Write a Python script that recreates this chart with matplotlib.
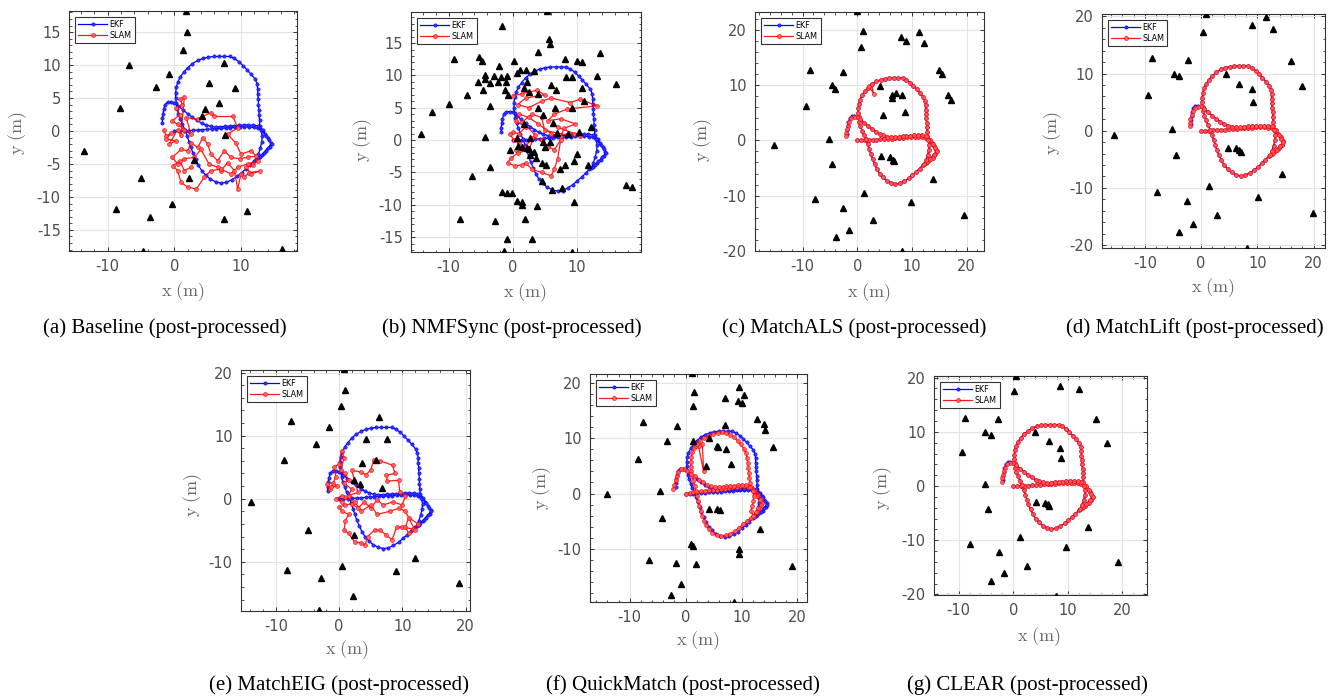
import numpy as np
import matplotlib
matplotlib.use("Agg")
import matplotlib.pyplot as plt
from matplotlib.ticker import MultipleLocator

plt.rcParams["mathtext.fontset"] = "cm"
plt.rcParams["axes.unicode_minus"] = False

# ---- EKF trajectory (same in every panel), split so SLAM variants can reuse it
EKF_START = np.array([
    (0, 0), (0.7, 0), (1.4, 0), (2.1, 0.05), (2.8, 0.1), (3.5, 0.15), (4.2, 0.2), (4.9, 0.25),
    (5.6, 0.3), (6.3, 0.35), (7, 0.4), (7.7, 0.45), (8.4, 0.5), (9.1, 0.55), (9.8, 0.6),
    (10.5, 0.6), (11.2, 0.6), (11.9, 0.55), (12.5, 0.4),
    (13.1, 0), (13.6, -0.5), (14.1, -1.1), (14.5, -1.8), (14.3, -2.5), (13.8, -3.1),
    (13.2, -3.6), (12.6, -4.1), (12.0, -4.5),
    (11.4, -5.1), (10.8, -5.7), (10.1, -6.3), (9.4, -6.9), (8.6, -7.4), (7.8, -7.8), (7.0, -7.9),
    (6.2, -7.7), (5.4, -7.3), (4.7, -6.7), (4.1, -6.0), (3.6, -5.2), (3.2, -4.3), (2.8, -3.4),
    (2.5, -2.5), (2.2, -1.6), (1.9, -0.7), (1.6, 0.2), (1.2, 1.0), (0.9, 1.8), (0.6, 2.6),
    (0.4, 3.4), (0.3, 4.2), (0.2, 5.0), (0.2, 5.8), (0.3, 6.6), (0.5, 7.4), (0.9, 8.2),
    (1.4, 8.9), (2.0, 9.6),
])
EKF_REST = np.array([
    (2.7, 10.2), (3.5, 10.7), (4.3, 11.0), (5.1, 11.2), (5.9, 11.3), (6.7, 11.3), (7.5, 11.3),
    (8.3, 11.3), (9.0, 11.0), (9.7, 10.5), (10.3, 9.9), (10.9, 9.3), (11.5, 8.6), (12.1, 7.9),
    (12.4, 7.2), (12.5, 6.4), (12.5, 5.6), (12.6, 4.8), (12.6, 4.0), (12.7, 3.2), (12.7, 2.4),
    (12.8, 1.6), (12.8, 0.8),
    (13.3, 0.1), (13.8, -0.7), (14.2, -1.4), (14.6, -2.0), (14.0, -2.6), (13.4, -3.3),
    (12.8, -3.9), (12.3, -4.3), (12.6, -3.5), (12.9, -2.6), (13.1, -1.7), (13.2, -0.8),
    (13.0, 0.1), (12.5, 0.8),
    (11.8, 0.9), (11.1, 0.9), (10.4, 0.9), (9.7, 0.85), (9.0, 0.8), (8.3, 0.75), (7.6, 0.7),
    (6.9, 0.65), (6.2, 0.6), (5.5, 0.7), (4.8, 0.9), (4.1, 1.2), (3.4, 1.6), (2.7, 2.1),
    (2.0, 2.6), (1.3, 3.2), (0.6, 3.8), (0.0, 4.3),
])
EKF_HOOK = np.array([(-0.5, 4.4), (-1.0, 4.4), (-1.4, 4.0), (-1.6, 3.3), (-1.7, 2.6),
                     (-1.8, 1.9), (-1.8, 1.2)])
EKF = np.vstack([EKF_START, EKF_REST, EKF_HOOK])

# ---- SLAM trajectories
SLAM_HOOK = np.array([(-0.6, 4.2), (-1.1, 4.0), (-1.5, 3.4), (-1.7, 2.7), (-1.9, 2.0),
                      (-2.0, 1.4), (-2.0, 0.8)])
SPIKE_C = np.array([(2.6, 10.1), (3.0, 8.5), (2.2, 9.8)])
SLAM_C = np.vstack([EKF_START, SPIKE_C, EKF_REST, SLAM_HOOK])
SLAM_D = np.vstack([EKF_START, EKF_REST, SLAM_HOOK])

SLAM_A = np.array([
    (-1.6, 0.2), (-1.2, -0.8), (-0.5, -0.3), (-1.2, -1.2), (0.2, -1.5), (-0.8, -2), (0.5, 0.2),
    (1.0, -0.6), (1.5, 5.2), (0.9, 4.8), (1.2, 4.0), (0.3, 3.5), (0.8, 2.5), (-0.3, 1.5),
    (0.5, 1.0), (1.5, 0.2), (2.5, -0.5), (1.8, 2.0), (3.5, 1.8), (5.5, 2.8), (6.0, 2.2),
    (8.8, 2.2), (9.5, 0.5), (8.0, -0.5), (9.2, -1.8), (10.0, -3.5), (11.5, -3.0), (12.3, -3.8),
    (11.0, -4.0), (9.8, -4.2), (8.5, -4.0), (7.5, -3.0), (6.5, -4.5), (5.5, -3.5), (5.0, -2.0),
    (4.3, -1.0), (3.5, -2.5), (2.5, -1.8), (2.0, -3.0), (1.0, -2.8), (-0.3, -4.0), (0.5, -5.0),
    (1.5, -4.2), (3.0, -4.0), (4.0, -2.8), (5.2, -5.0), (6.5, -5.5), (7.0, -6.0), (8.0, -4.8),
    (9.0, -6.0), (9.5, -8.8), (10.0, -6.5), (10.5, -7.0), (11.2, -6.3), (12.8, -6.1),
    (11.5, -6.5), (10.8, -5.5), (11.8, -5.2), (12.5, -4.5), (11.0, -5.0), (9.5, -5.5),
    (8.5, -6.5), (7.0, -5.8), (5.5, -6.0), (4.5, -7.0), (3.3, -8.8), (2.0, -8.5), (1.0, -7.8),
    (0.5, -6.0), (-0.2, -5.3), (0.8, -4.5), (1.5, -6.0), (2.5, -5.5),
])

SLAM_B = np.array([
    (0.0, 6.8), (1.5, 7.2), (3.8, 7.7), (5.0, 7.0), (2.0, 6.5), (0.8, 5.5), (2.5, 5.0),
    (4.5, 6.0), (6.0, 6.5), (9.0, 5.8), (10.5, 6.3), (13.2, 5.3), (8.5, 4.8), (6.5, 4.0),
    (5.5, 3.0), (7.5, 3.3), (9.8, 2.5), (8.0, 1.8), (7.5, 0.5), (6.0, 1.0), (4.0, 2.5),
    (2.5, 3.5), (1.0, 4.0), (0.5, 3.0), (2.0, 2.0), (1.0, 1.0), (0.0, 1.2), (-0.5, 1.0),
    (0.2, 0.0), (1.0, -0.5), (0.5, -1.5), (2.0, -1.0), (3.0, 0.3), (4.5, 0.0), (5.5, -1.0),
    (6.5, -1.5), (7.5, 0.0), (7.0, -3.0), (6.5, -4.5), (6.0, -5.5), (4.5, -5.0), (3.0, -4.5),
    (2.0, -3.5), (1.5, -3.8), (0.3, -4.0), (-0.8, -3.5), (-0.3, -2.8), (0.8, -2.0),
    (2.5, -1.5), (3.5, 0.8), (1.5, 2.8), (3.0, 4.0), (4.5, 3.5), (5.0, 1.5), (8.5, 0.8),
    (9.5, 1.0), (10.5, 0.7), (7.0, 2.0),
])

SLAM_E = np.array([
    (-1.5, 1.5), (-1.9, 2.4), (-1.0, 2.5), (-0.3, 2.0), (-1.2, 1.8), (-0.5, 3.5), (-0.8, 5.0),
    (0.0, 5.5), (0.4, 7.6), (0.8, 6.5), (0.3, 4.5), (1.0, 4.0), (1.5, 3.0), (0.8, 2.5),
    (2.0, 1.5), (1.5, 0.5), (3.0, 1.0), (2.0, 4.5), (3.5, 4.2), (4.2, 3.8), (5.0, 4.5),
    (5.5, 6.2), (6.5, 6.0), (8.5, 5.3), (8.8, 4.0), (7.5, 3.7), (7.6, 2.8), (9.4, 2.9),
    (9.6, 1.1), (10.5, 0.5), (10.0, -1.0), (8.5, -0.5), (7.0, -1.0), (6.0, -0.2), (5.0, -1.5),
    (4.0, -0.5), (3.0, -1.5), (2.0, -0.8), (1.0, -1.0), (0.0, -1.3), (0.5, -2.0), (1.5, -2.5),
    (1.0, -3.5), (0.8, -5.0), (1.5, -5.5), (2.5, -6.9), (3.5, -7.0), (4.1, -7.4), (4.5, -6.0),
    (5.7, -4.9), (6.5, -5.0), (7.5, -5.8), (8.4, -6.5), (9.1, -4.5), (10.0, -4.5),
    (11.7, -4.8), (12.5, -4.0), (11.0, -3.0), (10.5, -4.5), (11.0, -5.5), (12.0, -5.0),
    (10.5, -2.0), (9.5, -1.5), (8.0, -2.0), (6.0, -2.5), (5.0, -1.0), (3.5, -2.0),
    (2.5, -0.5), (1.0, 0.2), (0.5, 0.5), (-0.5, 0.0), (0.5, -0.5),
])

SLAM_F = np.array([
    (0, 0), (0.7, 0.1), (1.4, 0.2), (2.1, 0.3), (2.8, 0.4), (3.5, 0.5), (4.2, 0.6), (4.9, 0.7),
    (5.6, 0.7), (6.3, 0.8), (7, 0.9), (7.7, 1.0), (8.4, 1.1), (9.1, 1.2), (9.8, 1.3),
    (10.5, 1.3), (11.2, 1.2), (11.8, 1.0),
    (12.4, 0.5), (13.0, -0.2), (13.5, -1.0), (13.6, -1.8), (13.3, -2.6), (12.8, -3.3),
    (12.2, -4.0), (11.6, -4.5),
    (11.0, -5.0), (10.3, -5.6), (9.6, -6.2), (8.8, -6.8), (8.0, -7.3), (7.2, -7.6), (6.4, -7.7),
    (5.6, -7.5), (4.8, -7.1), (4.2, -6.5), (3.7, -5.8), (3.3, -5.0), (3.0, -4.1), (2.7, -3.2),
    (2.4, -2.3), (2.2, -1.4), (2.0, -0.5), (1.8, 0.4), (1.6, 1.3), (1.4, 2.2), (1.2, 3.1),
    (1.0, 4.0), (0.9, 4.9), (0.9, 5.8), (1.0, 6.7), (1.2, 7.5), (1.5, 8.3),
    (3.0, 9.0), (3.2, 4.1), (2.3, 8.6), (1.8, 8.7),
    (2.0, 9.0), (2.6, 9.6), (3.3, 10.1), (4.1, 10.5), (4.9, 10.8), (5.7, 11.0), (6.5, 11.1),
    (7.3, 11.0), (8.0, 10.7), (8.7, 10.2), (9.3, 9.6), (9.9, 8.9), (10.4, 8.1), (10.8, 7.3),
    (11.0, 6.4), (11.1, 5.5), (11.2, 4.6), (11.3, 3.7), (11.4, 2.8), (11.5, 1.9), (11.6, 1.1),
    (12.2, 0.4), (12.8, -0.4), (13.3, -1.2), (13.5, -2.0), (13.0, -2.7), (12.5, -3.4),
    (12.0, -4.0), (11.7, -3.2), (11.9, -2.3), (12.1, -1.4), (12.2, -0.5), (12.0, 0.4),
    (11.5, 1.2),
    (10.8, 1.5), (10.1, 1.5), (9.4, 1.5), (8.7, 1.4), (8.0, 1.4), (7.3, 1.3), (6.6, 1.2),
    (5.9, 1.1), (5.2, 1.1), (4.5, 1.3), (3.8, 1.6), (3.1, 2.0), (2.4, 2.5), (1.7, 3.1),
    (1.0, 3.6), (0.3, 4.1), (-0.3, 4.4),
    (-0.8, 4.4), (-1.3, 3.9), (-1.6, 3.2), (-1.8, 2.4), (-2.0, 1.6), (-2.2, 0.9),
])

# ---- landmarks
LM_A = np.array([
    (1.8, 18.2), (1.9, 15), (1.25, 12.3), (-6.85, 10), (-0.85, 8.7), (7.5, 10.3), (5.2, 7.3),
    (-2.8, 6.6), (9.05, 6.5), (-8.2, 3.5), (6.75, 4.3), (4.55, 3.3), (4.1, 2.2), (7.65, -0.55),
    (-13.5, -3), (3, -4.4), (-5, -7.1), (2.15, -7.1), (-0.3, -11.1), (-8.7, -11.8),
    (-3.6, -13), (7.4, -13.3), (10.95, -12.1), (-4.7, -18.2), (16.15, -17.9),
])
LM_B = np.array([
    (5.4, 20), (-1.6, 17.6), (5.7, 15.7), (5.8, 14.9), (3.9, 13.6), (13.6, 13.4), (-9.2, 12.6),
    (-5.2, 12.9), (-4.8, 12.3), (8.1, 12.6), (10, 12.3), (10.8, 12.1), (0.15, 12.2),
    (-2.2, 11.4), (0.6, 10.4), (1.15, 10.9), (2.1, 10.8), (3.3, 10.7), (-4.4, 10), (-4.3, 9.4),
    (-3, 9.9), (-1.8, 9.8), (-0.9, 9.9), (-3.6, 8.9), (-2.3, 9), (-1.1, 9), (-5.4, 9), (2.3, 9),
    (8.3, 9.8), (9.2, 9.8), (13.1, 9.9), (16.1, 8.7), (6, 8.5), (6.8, 7.8), (-4.6, 7.7),
    (-1.25, 7.8), (1.8, 8), (2.55, 7.5), (10.8, 8), (-7.2, 6.9), (-0.7, 6.9), (4, 7.1),
    (-9.9, 5.6), (-12.55, 4.4), (-3.5, 5.2), (4, 4.9), (6.6, 5), (9.2, 5), (11.1, 6),
    (4.8, 3.9), (1.8, 2.5), (6.35, 2.6), (12.2, 2), (-4.3, 0.4), (-14.3, 0.9), (0.6, 0.3),
    (2.7, 0.3), (5.8, -0.3), (6.9, 1.1), (8.7, 0.9), (10.4, 1.3), (-0.5, -1.5), (0.8, -0.9),
    (1.4, -1), (2.2, -1.3), (2.6, -1.4), (3.4, -1.8), (5.05, -1.1), (3.6, -2.8), (10, -2.1),
    (9.6, -3.2), (8.2, -3.9), (7.4, -4.4), (11.7, -3.8), (4.5, -3.6), (5.2, -3.8),
    (-3.6, -4.2), (-6.4, -5.6), (4.5, -6.3), (6.1, -7.7), (7.7, -7.4), (-1.6, -8.1),
    (-0.9, -8.2), (-0.15, -8.2), (0.6, -9.4), (1.4, -9.6), (1.4, -10.1), (3.75, -10.2),
    (9.5, -9.6), (-8.2, -12.2), (-2.8, -12.5), (1.9, -12.2), (-0.9, -15.3), (3, -15.3),
    (-1.35, -17.1), (9.2, -17.3), (17.65, -6.9), (18.6, -7.3), (4.7, -0.3), (2.7, -2.3),
])
LM_C = np.array([
    (0, 23.4), (1.1, 19.8), (0.7, 16.9), (8.1, 18.7), (9, 18), (11.3, 19.6), (12.3, 17.6),
    (15, 12.8), (15.5, 12), (-8.7, 12.7), (-2.6, 12.4), (-4.6, 10), (-4, 9.4), (4.1, 9.8),
    (6.4, 8.2), (7.1, 8.6), (8.2, 8.2), (6.4, 7.7), (16.6, 8.2), (17.1, 7.4), (-9.4, 6.2),
    (4.8, 4.6), (8.8, 5.2), (-15.2, -0.9), (-5.1, 0.3), (-4.6, -4.2), (4.3, -2.9), (6, -3),
    (6.5, -3.6), (6.8, -3.8), (13.9, -7), (1.2, -9.5), (9.8, -11.1), (-7.7, -10.7),
    (-2.6, -12.2), (2.8, -14.5), (-1.5, -16.2), (-3.9, -17.6), (8.2, -20.1), (19.5, -13.6),
])
LM_D = np.array([
    (0.8, 20.4), (11.5, 19.9), (9.1, 18.4), (12.7, 17.7), (0.4, 17.3), (-8.7, 12.7),
    (-2.4, 12.4), (16, 12.2), (-4.9, 9.9), (-3.9, 9.6), (4.4, 9.9), (6.8, 8.2), (9, 7.3),
    (17.9, 7.8), (9.3, 5), (-9.4, 6.2), (-5.1, 0.3), (-15.4, -0.8), (-4.5, -4.2), (4.7, -3),
    (6.2, -3), (6.8, -3.4), (7.1, -3.8), (14.4, -7.5), (-7.8, -10.7), (1.4, -9.6),
    (10.1, -11.6), (-2.5, -12.2), (2.9, -14.8), (-1.5, -16.3), (-3.9, -17.7), (8.1, -20.5),
    (19.9, -14.4),
])
LM_E = np.array([
    (0.85, 20.5), (1, 17.3), (0.35, 14.7), (6.35, 13), (-7.6, 12.3), (-1.6, 11.3), (4.2, 9.5),
    (7.6, 9.4), (-3.6, 8.7), (-8.7, 6.2), (3.6, 5.7), (5.9, 6.2), (2.4, 3), (3.3, 2.3),
    (6.8, 1.7), (-13.9, -0.5), (-4.9, -4.9), (2.4, -5.7), (-8.2, -11.3), (0.5, -10.6),
    (-2.8, -12.5), (2.2, -15.5), (-3.2, -17.7), (9.05, -11.5), (12.05, -9.4), (19, -13.4),
])
LM_F = np.array([
    (1.07, 21.9), (1.55, 18.4), (1.25, 15.8), (9.6, 19.3), (10.5, 17.9), (7, 17.3),
    (9.3, 16.8), (10.1, 16.4), (12.7, 13.6), (14, 12.7), (14.2, 11.6), (-7.7, 13),
    (-1.6, 12.3), (7, 12.5), (4.2, 10.1), (1.25, 9.6), (-3.4, 9.6), (5.65, 8.7), (5.8, 8.4),
    (7.3, 8), (15.6, 8.5), (-8.6, 6.2), (8.1, 5.3), (3.6, 5), (-14.1, 0), (-4.6, 0.5),
    (-4.2, -4.4), (4.2, -2.8), (5.65, -2.9), (6.1, -3), (13.3, -6.5), (0.9, -9.1),
    (1.4, -9.6), (9.5, -10), (9.5, -11), (-6.6, -12), (-1.8, -12.7), (1.8, -12.8),
    (-0.8, -16.4), (-2.6, -18.5), (8.7, -19.7), (19, -13.2),
])
LM_G = np.array([
    (0.5, 20.3), (8.5, 18.5), (12.1, 17.9), (0.1, 17.5), (-8.8, 12.6), (-2.7, 12.3),
    (15.2, 12.3), (-5.1, 9.9), (-4.1, 9.5), (4.05, 9.9), (6.5, 8.3), (8.5, 7.1), (17.1, 8),
    (8.7, 5.1), (-9.3, 6.2), (-5.2, 0.3), (-4.6, -4.2), (4.2, -2.9), (5.8, -3.1), (6.3, -3.4),
    (6.6, -3.6), (13.7, -7.5), (-7.9, -10.7), (1.2, -9.4), (9.6, -11.3), (-2.6, -12.2),
    (2.6, -14.7), (-1.7, -16.1), (-4.1, -17.6), (7.9, -20.2), (19.2, -14),
])

CAPTIONS = [
    "(a) Baseline (post-processed)", "(b) NMFSync (post-processed)",
    "(c) MatchALS (post-processed)", "(d) MatchLift (post-processed)",
    "(e) MatchEIG (post-processed)", "(f) QuickMatch (post-processed)",
    "(g) CLEAR (post-processed)",
]
SLAMS = [SLAM_A, SLAM_B, SLAM_C, SLAM_D, SLAM_E, SLAM_F, SLAM_D]
LANDMARKS = [LM_A, LM_B, LM_C, LM_D, LM_E, LM_F, LM_G]

# layout: pixel box (left, top, right, bottom), limits, ticks, label centres (px), caption centre
W, H = 1339, 696
LAYOUT = [
    dict(box=(69, 11, 297, 251), xlim=(-15.8, 18.4), ylim=(-18.2, 18.2), xt=[-10, 0, 10],
         yt=[-15, -10, -5, 0, 5, 10, 15], ymin=1, xl=(183, 292), yl=(18, 133), cap=(165, 328)),
    dict(box=(411, 12, 641, 252), xlim=(-15.9, 20.05), ylim=(-17.3, 19.8), xt=[-10, 0, 10],
         yt=[-15, -10, -5, 0, 5, 10, 15], ymin=1, xl=(525, 293), yl=(363, 140), cap=(512, 328)),
    dict(box=(755, 12, 984, 251), xlim=(-18.7, 23.2), ylim=(-20.06, 23.3), xt=[-10, 0, 10, 20],
         yt=[-20, -10, 0, 10, 20], ymin=2, xl=(869, 293), yl=(703, 140), cap=(854, 328)),
    dict(box=(1102, 14, 1325, 248), xlim=(-17.6, 22), ylim=(-20.5, 20.4), xt=[-10, 0, 10, 20],
         yt=[-20, -10, 0, 10, 20], ymin=2, xl=(1213, 288), yl=(1053, 133), cap=(1195, 328)),
    dict(box=(241, 370, 470, 611), xlim=(-15.5, 20.7), ylim=(-17.8, 20.4), xt=[-10, 0, 10, 20],
         yt=[-10, 0, 10, 20], ymin=2, xl=(347, 650), yl=(193, 495), cap=(339, 685)),
    dict(box=(590, 374, 807, 602), xlim=(-17.1, 21.7), ylim=(-19.7, 21.7), xt=[-10, 0, 10, 20],
         yt=[-10, 0, 10, 20], ymin=2, xl=(698, 641), yl=(542, 488), cap=(683, 685)),
    dict(box=(934, 376, 1147, 595), xlim=(-14.5, 24.5), ylim=(-20.1, 20.3), xt=[-10, 0, 10, 20],
         yt=[-20, -10, 0, 10, 20], ymin=2, xl=(1039, 637), yl=(883, 488), cap=(1027, 685)),
]

TICK_COLOR = "#4d4d4d"
LABEL_COLOR = "#6b6b6b"

fig = plt.figure(figsize=(W / 100, H / 100), dpi=100)

for lay, slam, lm, cap in zip(LAYOUT, SLAMS, LANDMARKS, CAPTIONS):
    l, t, r, b = lay["box"]
    ax = fig.add_axes([l / W, 1 - b / H, (r - l) / W, (b - t) / H])
    ax.plot(EKF[:, 0], EKF[:, 1], "-o", color="#0000ff", lw=0.9, ms=2.4,
            mfc="#3333ff", mec="#0000ff", mew=0.4, label="EKF", zorder=3)
    ax.plot(slam[:, 0], slam[:, 1], "-o", color="#ff0000", lw=0.9, ms=2.8,
            mfc="#ff6060", mec="#ff0000", mew=0.5, alpha=0.9, label="SLAM", zorder=4)
    ax.plot(lm[:, 0], lm[:, 1], "^", color="black", ms=4, ls="none", zorder=5)

    ax.set_xlim(*lay["xlim"])
    ax.set_ylim(*lay["ylim"])
    ax.set_xticks(lay["xt"])
    ax.set_yticks(lay["yt"])
    ax.xaxis.set_minor_locator(MultipleLocator(2))
    ax.yaxis.set_minor_locator(MultipleLocator(lay["ymin"]))
    ax.grid(True, which="major", color="#e3e3e3", lw=0.8, zorder=0)
    ax.set_axisbelow(True)
    ax.tick_params(which="both", direction="in", top=True, right=True, color="#333333",
                   labelcolor=TICK_COLOR, labelsize=10.5, pad=6)
    ax.tick_params(which="major", length=3, width=0.7)
    ax.tick_params(which="minor", length=1.8, width=0.6)
    for lab in ax.get_xticklabels() + ax.get_yticklabels():
        lab.set_fontfamily("DejaVu Sans")
    for sp in ax.spines.values():
        sp.set_color("#333333")
        sp.set_linewidth(0.8)

    # axis labels placed at their measured centres
    fig.text(lay["xl"][0] / W, 1 - lay["xl"][1] / H, r"$\mathrm{x\ (m)}$", fontsize=13,
             color=LABEL_COLOR, ha="center", va="center")
    fig.text(lay["yl"][0] / W, 1 - lay["yl"][1] / H, r"$\mathrm{y\ (m)}$", fontsize=13,
             color=LABEL_COLOR, ha="center", va="center", rotation=90)

    leg = ax.legend(loc="upper left", fancybox=False, edgecolor="#333333",
                    framealpha=1, borderaxespad=0.8, handlelength=3.6, borderpad=0.35,
                    labelspacing=0.25, handletextpad=0.3, prop={"family": "DejaVu Sans", "size": 5.8})
    leg.get_frame().set_linewidth(0.8)

    fig.text(lay["cap"][0] / W, 1 - lay["cap"][1] / H, cap, ha="center", va="center",
             fontsize=15, family="Liberation Serif", color="black")

fig.savefig("out.png", dpi=100)
